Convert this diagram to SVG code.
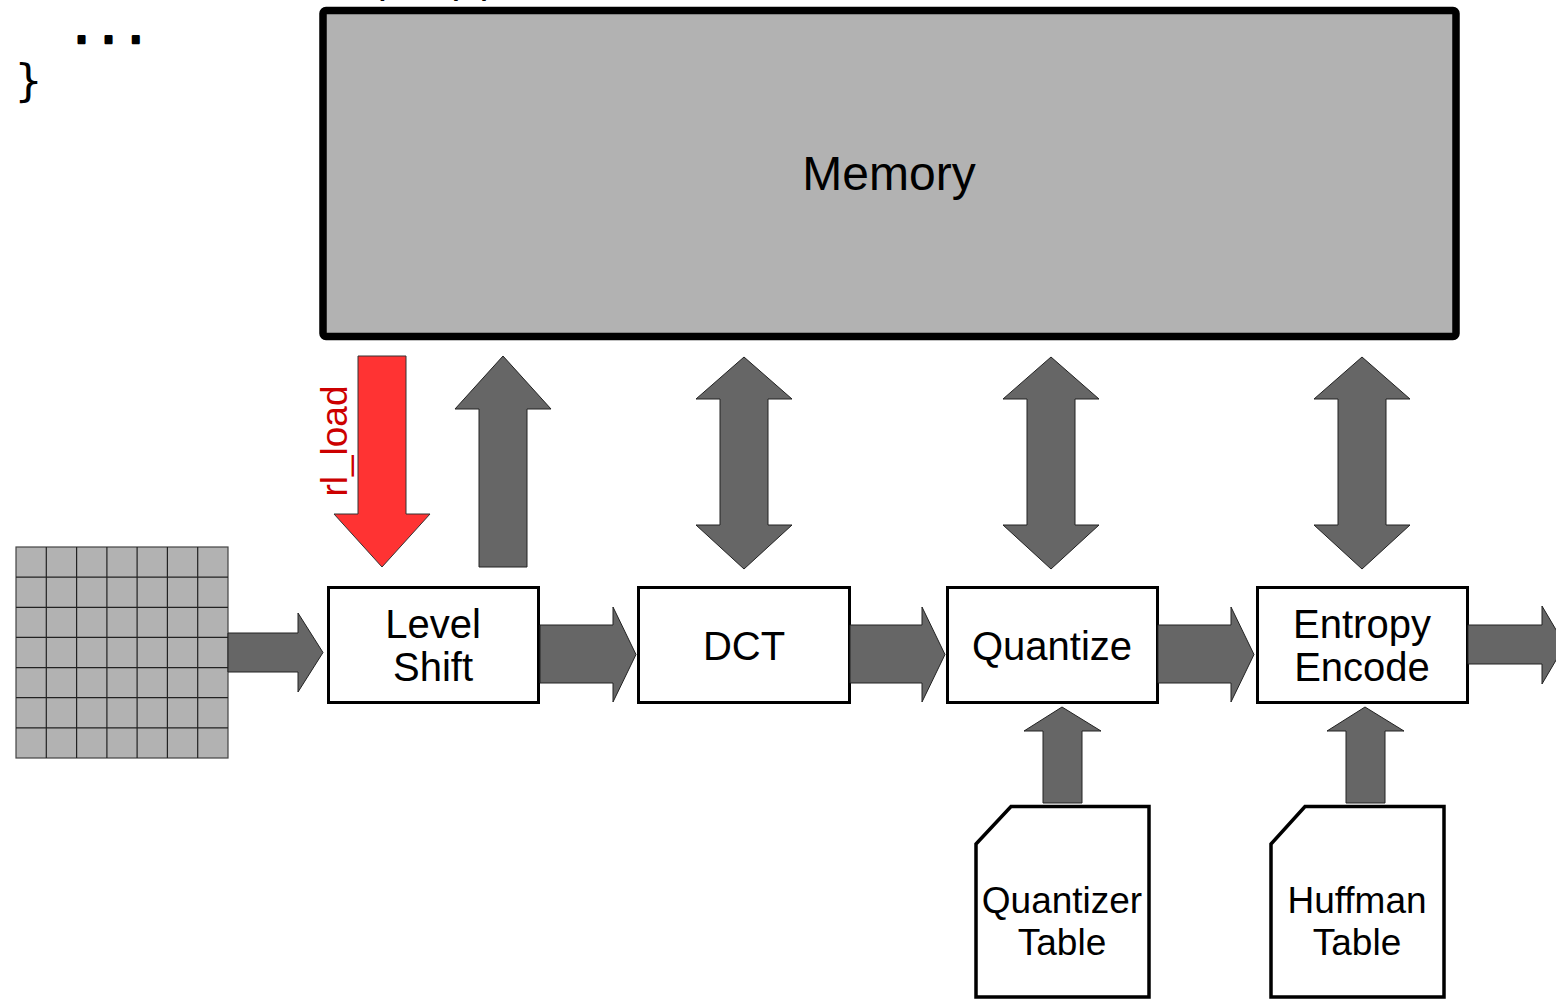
<svg xmlns="http://www.w3.org/2000/svg" width="1556" height="1001" viewBox="0 0 1556 1001">
<style>
.code{font-family:"DejaVu Sans Mono",monospace;font-size:45px;fill:#000}
.lbl{font-family:"Liberation Sans",Arial,sans-serif;fill:#000;text-anchor:middle}
.box{fill:#fff;stroke:#000;stroke-width:3}
.doc{fill:#fff;stroke:#000;stroke-width:3.5;stroke-linejoin:miter}
.arr{fill:#666666;stroke:#222;stroke-width:1}
.red{fill:#ff3333;stroke:#333;stroke-width:1}
.cell{fill:none;stroke:#222;stroke-width:1.2}
</style>
<rect width="1556" height="1001" fill="#fff"/>
<g id="code">
<text class="code" x="365" y="-5" xml:space="preserve">(  );</text>
<text class="code" x="68" y="43" stroke="#000" stroke-width="2.5" stroke-linejoin="round">...</text>
<text class="code" x="15" y="96">}</text>
</g>
<g id="memory">
<rect x="323" y="10.5" width="1133" height="326" rx="3" fill="#b2b2b2" stroke="#000" stroke-width="7.5"/>
<text class="lbl" x="889" y="190" font-size="48">Memory</text>
</g>
<g id="block">
<rect x="16" y="547" width="212" height="211" fill="#b2b2b2" stroke="#444" stroke-width="1.2"/>
<path class="cell" d="M46.3,547V758M76.6,547V758M106.9,547V758M137.1,547V758M167.4,547V758M197.7,547V758M16,577.1H228M16,607.3H228M16,637.4H228M16,667.6H228M16,697.7H228M16,727.9H228"/>
</g>
<g id="level-shift">
<rect class="box" x="328.5" y="587.5" width="210" height="115"/>
<text class="lbl" x="433" y="638" font-size="40">Level</text>
<text class="lbl" x="433" y="681" font-size="40">Shift</text>
</g>
<g id="dct">
<rect class="box" x="638.5" y="587.5" width="211" height="115"/>
<text class="lbl" x="744" y="660" font-size="40">DCT</text>
</g>
<g id="quantize">
<rect class="box" x="947.5" y="587.5" width="210" height="115"/>
<text class="lbl" x="1052" y="660" font-size="40">Quantize</text>
</g>
<g id="entropy-encode">
<rect class="box" x="1257.5" y="587.5" width="210" height="115"/>
<text class="lbl" x="1362" y="638" font-size="40">Entropy</text>
<text class="lbl" x="1362" y="681" font-size="40">Encode</text>
</g>
<g id="quantizer-table">
<path class="doc" d="M1011,806.5H1149V997H976V844Z"/>
<text class="lbl" x="1062" y="913" font-size="37">Quantizer</text>
<text class="lbl" x="1062" y="955" font-size="37">Table</text>
</g>
<g id="huffman-table">
<path class="doc" d="M1305,806.5H1444V997H1271V844Z"/>
<text class="lbl" x="1357" y="913" font-size="37">Huffman</text>
<text class="lbl" x="1357" y="955" font-size="37">Table</text>
</g>
<g id="connectors">
<path class="arr" d="M228,633H298V613L323,652.5L298,692V672H228Z"/>
<path class="arr" d="M540,625H613V607L636,654.5L613,702V683H540Z"/>
<path class="arr" d="M850,625H922V607L945,654.5L922,702V683H850Z"/>
<path class="arr" d="M1158,625H1231V607L1254,654.5L1231,702V683H1158Z"/>
<path class="arr" d="M1468,625H1542V606L1565,645L1542,684V664H1468Z"/>
<path class="red" d="M358,356H406V514H430L382,567L334,514H358Z"/>
<text x="347" y="441" transform="rotate(-90 347 441)" font-family="Liberation Sans, Arial, sans-serif" font-size="37" fill="#cc0000" text-anchor="middle">rl_load</text>
<path class="arr" d="M479,567V409H455L503,356L551,409H527V567Z"/>
<path class="arr" d="M744,357L792,399H768V525H792L744,569L696,525H720V399H696Z"/>
<path class="arr" d="M1051,357L1099,399H1075V525H1099L1051,569L1003,525H1027V399H1003Z"/>
<path class="arr" d="M1362,357L1410,399H1386V525H1410L1362,569L1314,525H1338V399H1314Z"/>
<path class="arr" d="M1043,803V731H1024L1062,707L1101,731H1082V803Z"/>
<path class="arr" d="M1346,803V731H1327L1365,707L1404,731H1385V803Z"/>
</g>
</svg>
